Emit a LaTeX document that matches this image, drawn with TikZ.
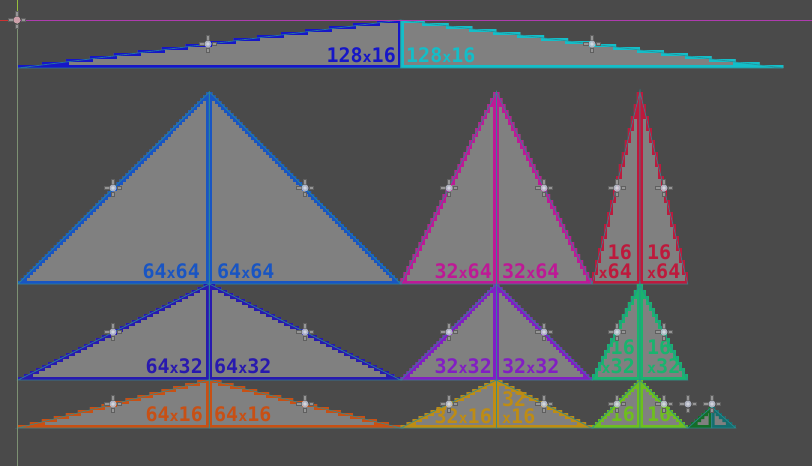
\documentclass[tikz,border=0pt]{standalone}
\usepackage{fontspec}
\newfontfamily\lblfont{DejaVu Sans Mono}
\definecolor{bg}{RGB}{74,74,74}
\definecolor{tg}{RGB}{128,128,128}
\definecolor{cA}{RGB}{22,22,200}
\definecolor{cB}{RGB}{20,190,200}
\definecolor{cC}{RGB}{25,85,195}
\definecolor{cD}{RGB}{190,25,150}
\definecolor{cE}{RGB}{190,25,60}
\definecolor{cF}{RGB}{40,25,175}
\definecolor{cG}{RGB}{130,30,195}
\definecolor{cH}{RGB}{25,180,110}
\definecolor{cI}{RGB}{200,80,20}
\definecolor{cJ}{RGB}{190,140,20}
\definecolor{cK}{RGB}{110,190,30}
\definecolor{cL}{RGB}{20,110,40}
\definecolor{cM}{RGB}{20,110,110}
\definecolor{teal2}{RGB}{40,140,150}
\definecolor{axred}{RGB}{205,50,50}
\definecolor{axmag}{RGB}{175,60,175}
\definecolor{axgrn}{RGB}{150,190,60}
\definecolor{axgry}{RGB}{125,145,115}
\definecolor{tickf}{RGB}{150,150,150}
\definecolor{tickd}{RGB}{95,95,95}
\definecolor{mkc}{RGB}{185,190,205}
\definecolor{mko}{RGB}{205,160,170}
\newcommand\sx{{\fontsize{15}{15}\selectfont x}}
\newcommand\tileL[5]{%
  \pgfmathsetmacro\tn{min(#3,#4)}%
  \pgfmathtruncatemacro\tm{\tn-1}%
  \pgfmathsetmacro\tdx{#3/\tn}%
  \pgfmathsetmacro\tdy{#4/\tn}%
  \def\tpath{(#1,#2+#4) \foreach \i in {0,...,\tm} { -- ({#1+\i*\tdx},{#2+#4-(\i+1)*\tdy}) -- ({#1+(\i+1)*\tdx},{#2+#4-(\i+1)*\tdy}) } -- (#1+#3,#2+#4) -- cycle}%
  \fill[tg] \tpath;
  \begin{scope}\clip \tpath; \draw[#5, line width=6pt] \tpath; \end{scope}
  \draw[teal2, line width=0.8pt, opacity=0.8] (#1,#2+#4) -- (#1+#3,#2) -- (#1+#3,#2+#4) -- cycle;
}
\newcommand\tileR[5]{%
  \pgfmathsetmacro\tn{min(#3,#4)}%
  \pgfmathtruncatemacro\tm{\tn-1}%
  \pgfmathsetmacro\tdx{#3/\tn}%
  \pgfmathsetmacro\tdy{#4/\tn}%
  \def\tpath{(#1,#2+#4) \foreach \i in {0,...,\tm} { -- ({#1+\i*\tdx},{#2+\i*\tdy}) -- ({#1+(\i+1)*\tdx},{#2+\i*\tdy}) } -- (#1+#3,#2+#4) -- cycle}%
  \fill[tg] \tpath;
  \begin{scope}\clip \tpath; \draw[#5, line width=6pt] \tpath; \end{scope}
  \draw[teal2, line width=0.8pt, opacity=0.8] (#1,#2+#4) -- (#1,#2) -- (#1+#3,#2+#4) -- cycle;
}
\tikzset{
  lbl/.style={font=\lblfont\bfseries\fontsize{20}{18}\selectfont, inner sep=0pt},
  lblL/.style={lbl, anchor=south east},
  lblR/.style={lbl, anchor=south west},
  mk/.pic={
    \foreach \a in {0,90,180,270}{
      \filldraw[rotate=\a, fill=tickf, draw=tickd, line width=0.6pt] (-1.3,-8.5) rectangle (1.3,-4);
    }
    \fill[mkc, opacity=0.9] (0,0) circle (3.5);
    \fill[white, opacity=0.45] (0,0) circle (1.8);
  },
  mkorig/.pic={
    \foreach \a in {0,90,180,270}{
      \filldraw[rotate=\a, fill=tickf, draw=tickd, line width=0.6pt] (-1.3,-8.5) rectangle (1.3,-4);
    }
    \fill[mko] (0,0) circle (3.5);
  }
}
\begin{document}
\begin{tikzpicture}[x=1pt,y=-1pt]
\fill[bg] (0,0) rectangle (812,466);
\useasboundingbox (0,0) rectangle (812,466);
% tiles in tile units
\begin{scope}[shift={(18,20)}]
\begin{scope}[x=2.99pt,y=-3pt]
  \tileL{0}{0}{128}{16}{cA}
  \tileR{128}{0}{128}{16}{cB}
  \tileL{0}{24}{64}{64}{cC}
  \tileR{64}{24}{64}{64}{cC}
  \tileL{128}{24}{32}{64}{cD}
  \tileR{160}{24}{32}{64}{cD}
  \tileL{192}{24}{16}{64}{cE}
  \tileR{208}{24}{16}{64}{cE}
  \tileL{0}{88}{64}{32}{cF}
  \tileR{64}{88}{64}{32}{cF}
  \tileL{128}{88}{32}{32}{cG}
  \tileR{160}{88}{32}{32}{cG}
  \tileL{192}{88}{16}{32}{cH}
  \tileR{208}{88}{16}{32}{cH}
  \tileL{0}{120}{64}{16}{cI}
  \tileR{64}{120}{64}{16}{cI}
  \tileL{128}{120}{32}{16}{cJ}
  \tileR{160}{120}{32}{16}{cJ}
  \tileL{192}{120}{16}{16}{cK}
  \tileR{208}{120}{16}{16}{cK}
  \tileL{224}{129}{8}{7}{cL}
  \tileR{232}{129}{8}{7}{cM}
\end{scope}
\end{scope}
% labels
\node[lblL, text=cA] (t1) at (396,63) {128\sx16};
\node[lblR, text=cB] (t2) at (406,63) {128\sx16};
\node[lblL, text=cC] (t3) at (200,279) {64\sx64};
\node[lblR, text=cC] (t4) at (217,279) {64\sx64};
\node[lblL, text=cD] (t5) at (492,279) {32\sx64};
\node[lblR, text=cD] (t6) at (502,279) {32\sx64};
\node[lblL, text=cE] (t7a) at (632,260) {16};
\node[lblL, text=cE] (t7b) at (632,279) {\sx64};
\node[lblR, text=cE] (t8a) at (647,260) {16};
\node[lblR, text=cE] (t8b) at (647,279) {\sx64};
\node[lblL, text=cF] (t9) at (203,374) {64\sx32};
\node[lblR, text=cF] (t10) at (214,374) {64\sx32};
\node[lblL, text=cG] (t11) at (492,374) {32\sx32};
\node[lblR, text=cG] (t12) at (502,374) {32\sx32};
\node[lblL, text=cH] (t13a) at (635,355) {16};
\node[lblL, text=cH] (t13b) at (635,374) {\sx32};
\node[lblR, text=cH] (t14a) at (647,355) {16};
\node[lblR, text=cH] (t14b) at (647,374) {\sx32};
\node[lblL, text=cI] (t15) at (203,422) {64\sx16};
\node[lblR, text=cI] (t16) at (214,422) {64\sx16};
\node[lblL, text=cJ] (t17) at (492,424) {32\sx16};
\node[lblR, text=cJ] (t18a) at (502,407) {32};
\node[lblR, text=cJ] (t18b) at (502,424) {\sx16};
\node[lblL, text=cK] (t19) at (635,422) {16};
\node[lblR, text=cK] (t20) at (647,422) {16};
% axes
\draw[axred, line width=1pt] (0,20) -- (17,20);
\draw[axmag, line width=1pt] (17,20) -- (812,20);
\draw[axgrn, line width=1pt] (17,0) -- (17,20);
\draw[axgry, line width=1pt] (17,20) -- (17,466);
% markers
\foreach \p in {(208,44),(592,44),(113,188),(305,188),(449,188),(544,188),(617,188),(664,188),
                (113,332),(305,332),(449,332),(544,332),(617,332),(664,332),
                (113,404),(305,404),(449,404),(544,404),(617,404),(664,404),(688,404),(712,404)}
  {\pic at \p {mk};}
\pic at (17,20) {mkorig};
\end{tikzpicture}
\end{document}
